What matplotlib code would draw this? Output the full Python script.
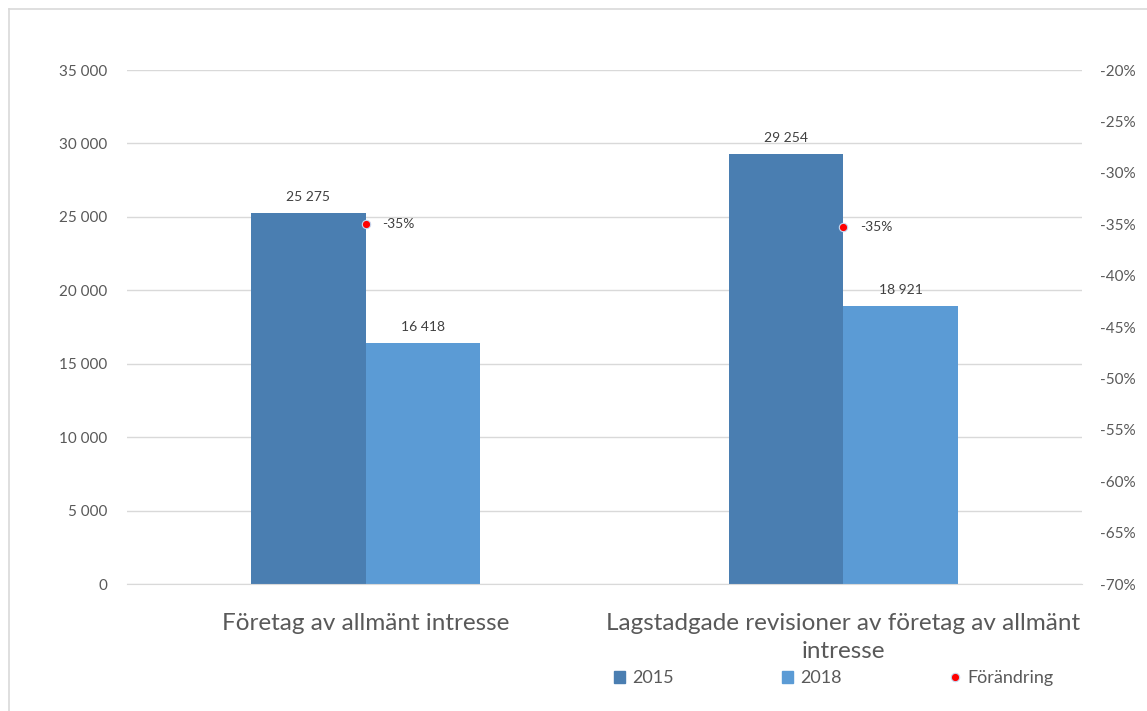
import matplotlib.pyplot as plt
import numpy as np
from matplotlib.lines import Line2D
from matplotlib.patches import Patch

plt.rcParams['font.family'] = ['Lato', 'DejaVu Sans']

categories = ["Företag av allmänt intresse",
              "Lagstadgade revisioner av företag av allmänt\nintresse"]
years = ["2015", "2018"]
values_2015 = [25275, 29254]
values_2018 = [16418, 18921]
change = [-0.350, -0.353]

c2015 = "#4a7eb1"
c2018 = "#5b9bd5"
grey = "#595959"

fig = plt.figure(figsize=(11.47, 7.11), dpi=100)
ax = fig.add_axes([0.1107, 0.1786, 0.8327, 0.7229])
ax2 = ax.twinx()

x = np.arange(len(categories))
w = 0.24
b1 = ax.bar(x - w / 2, values_2015, w, color=c2015, zorder=2)
b2 = ax.bar(x + w / 2, values_2018, w, color=c2018, zorder=2)

def fmt(v):
    return f"{v:,}".replace(",", " ")

for bars in (b1, b2):
    for r in bars:
        ax.text(r.get_x() + r.get_width() / 2, r.get_height() + 700,
                fmt(int(r.get_height())), ha='center', va='bottom',
                fontsize=10, color='#404040')

ax.set_xlim(-0.5, 1.5)
ax.set_ylim(0, 35000)
ax.set_yticks(np.arange(0, 35001, 5000))
ax.set_yticklabels([fmt(v) for v in range(0, 35001, 5000)])
ax.yaxis.grid(True, color='#d9d9d9', linewidth=1, zorder=0)
ax.set_axisbelow(True)
ax.set_xticks(x)
ax.set_xticklabels(categories, fontsize=17.5, color=grey, linespacing=1.38)
ax.tick_params(axis='x', length=0, pad=21)
ax.tick_params(axis='y', length=0, pad=14, labelsize=11, labelcolor=grey)
for s in ['top', 'right', 'left']:
    ax.spines[s].set_visible(False)
ax.spines['bottom'].set_color('#d9d9d9')

# change between years on the secondary axis
ax2.plot(x, change, linestyle='none', marker='o', markersize=6,
         markerfacecolor='#ff0000', markeredgecolor='#c5d9f1',
         markeredgewidth=0.8, zorder=5)
for xi, c in zip(x, change):
    ax2.text(xi + 0.035, c, f"{c * 100:.0f}%", ha='left', va='center',
             fontsize=10, color='#404040')
ax2.set_ylim(-0.70, -0.20)
pct = np.arange(-0.70, -0.199, 0.05)
ax2.set_yticks(pct)
ax2.set_yticklabels([f"{p * 100:.0f}%" for p in pct])
ax2.tick_params(axis='y', length=0, pad=13, labelsize=11, labelcolor=grey)
for s in ax2.spines.values():
    s.set_visible(False)

handles = [Patch(color=c2015, label=years[0]),
           Patch(color=c2018, label=years[1]),
           Line2D([], [], linestyle='none', marker='o', markersize=6,
                  markerfacecolor='#ff0000', markeredgecolor='#c5d9f1',
                  markeredgewidth=0.8, label='Förändring')]
leg = fig.legend(handles=handles, loc='center', bbox_to_anchor=(0.727, 0.046),
                 ncol=3, frameon=False, fontsize=13, handlelength=0.6,
                 handleheight=0.6, handletextpad=0.4, columnspacing=6.0)
for t in leg.get_texts():
    t.set_color(grey)

# chart border
fig.add_artist(Line2D([0.008, 0.008], [0, 0.988], transform=fig.transFigure,
                      color='#d9d9d9', linewidth=1.2))
fig.add_artist(Line2D([0.008, 1], [0.988, 0.988], transform=fig.transFigure,
                      color='#d9d9d9', linewidth=1.2))

fig.savefig("out.png", dpi=100, facecolor='white')
